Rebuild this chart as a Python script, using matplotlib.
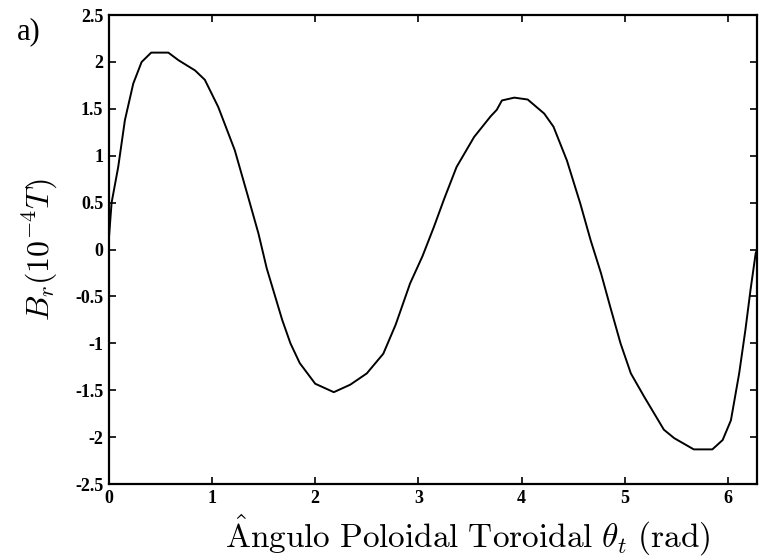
import matplotlib.pyplot as plt
import numpy as np
from matplotlib.ticker import FuncFormatter

theta = [0.0, 0.026, 0.09, 0.155, 0.236, 0.317, 0.41, 0.576, 0.673, 0.835,
         0.93, 1.06, 1.22, 1.35, 1.45, 1.53, 1.68, 1.76, 1.85, 2.0, 2.18,
         2.34, 2.50, 2.66, 2.78, 2.92, 3.04, 3.15, 3.25, 3.37, 3.54, 3.70,
         3.76, 3.81, 3.93, 4.06, 4.22, 4.31, 4.44, 4.57, 4.67, 4.77, 4.86,
         4.96, 5.06, 5.19, 5.38, 5.48, 5.67, 5.85, 5.95, 6.03, 6.11, 6.17,
         6.22, 6.27, 6.283]
br = [0.12, 0.50, 0.88, 1.38, 1.77, 2.0, 2.10, 2.10, 2.02, 1.91,
      1.81, 1.52, 1.06, 0.56, 0.17, -0.20, -0.75, -1.0, -1.21, -1.43, -1.52,
      -1.44, -1.32, -1.11, -0.80, -0.36, -0.07, 0.24, 0.54, 0.88, 1.20, 1.42,
      1.49, 1.59, 1.62, 1.60, 1.45, 1.31, 0.95, 0.49, 0.10, -0.25, -0.61,
      -1.0, -1.32, -1.57, -1.92, -2.01, -2.13, -2.13, -2.03, -1.82, -1.32, -0.86,
      -0.43, -0.04, 0.0]

xticks = [0, 1, 2, 3, 4, 5, 6]
yticks = [-2.5, -2, -1.5, -1, -0.5, 0, 0.5, 1, 1.5, 2, 2.5]

plt.rcParams['mathtext.fontset'] = 'cm'

fig = plt.figure(figsize=(7.67, 5.59), dpi=100)
ax = fig.add_axes([0.142, 0.134, 0.845, 0.839])

ax.plot(theta, br, color='black', linewidth=1.4)

ax.set_xlim(0, 2 * np.pi)
ax.set_ylim(-2.5, 2.5)
ax.set_xticks(xticks)
ax.set_yticks(yticks)
ax.yaxis.set_major_formatter(FuncFormatter(lambda v, p: '%g' % v))
ax.tick_params(direction='in', top=True, right=True, length=5, width=1.2, pad=4)
for lab in ax.get_xticklabels() + ax.get_yticklabels():
    lab.set_fontfamily('Liberation Serif')
    lab.set_fontweight('bold')
    lab.set_fontsize(13)
for s in ax.spines.values():
    s.set_linewidth(1.6)

ax.set_xlabel(r'$\mathrm{\hat{A}ngulo\ Poloidal\ Toroidal}\ \theta_t\ \mathrm{(rad)}$',
              fontsize=24)
ax.xaxis.set_label_coords(0.554, -0.061)
ax.set_ylabel(r'$B_r(10^{-4}T)$', fontsize=23, labelpad=11)

fig.text(0.022, 0.93, 'a)', fontsize=22, family='Liberation Serif')

fig.savefig('out.png', dpi=100)
